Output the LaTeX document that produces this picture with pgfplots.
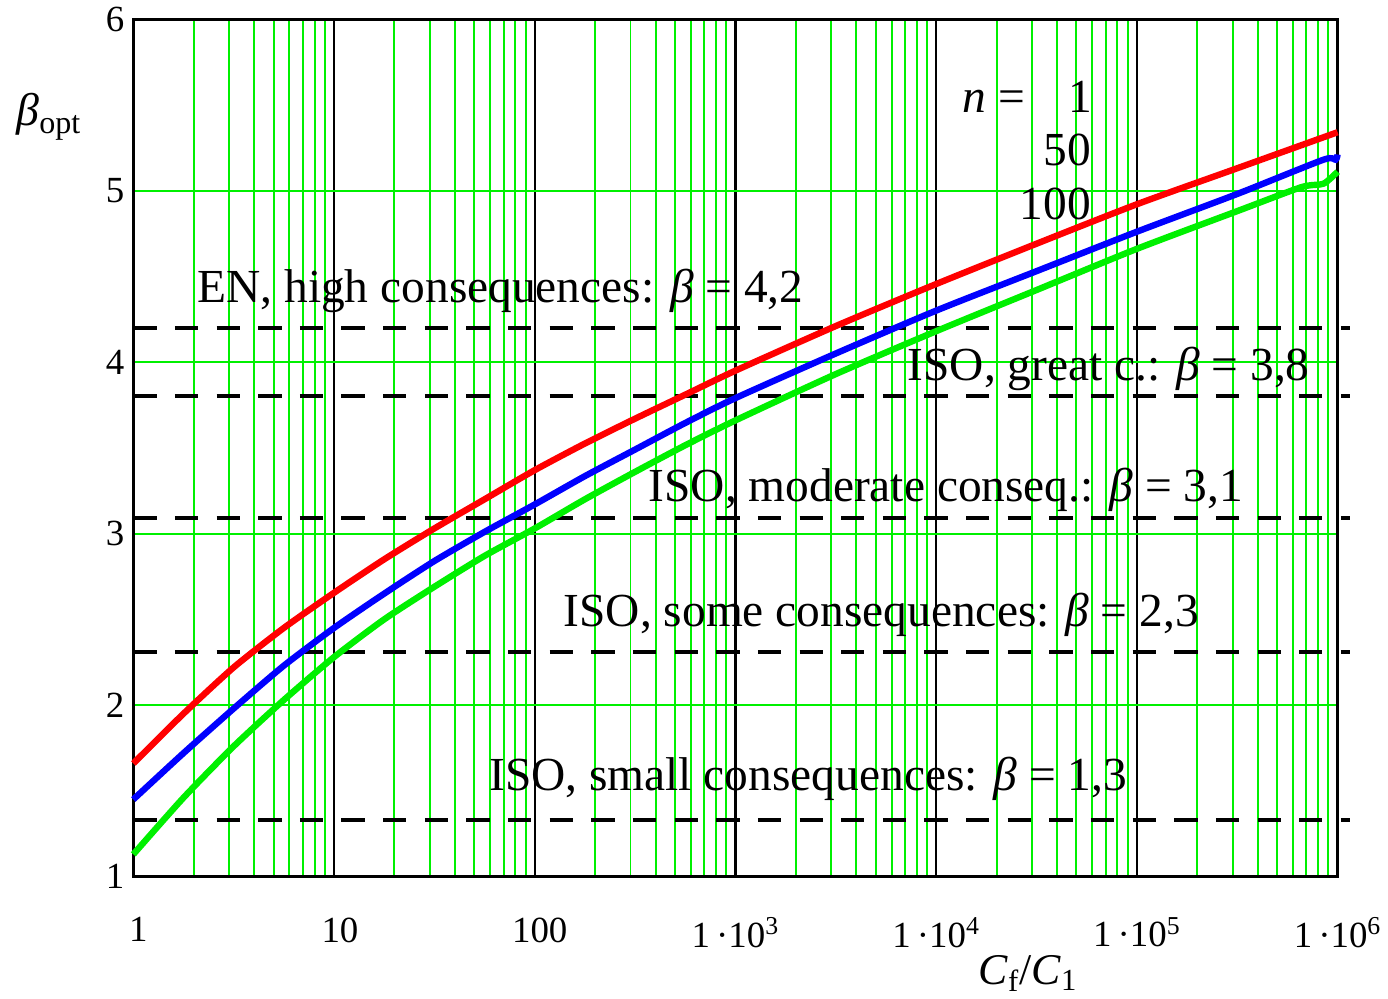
\documentclass[border={5pt 0pt 0pt 0pt}]{standalone}
\usepackage{fontspec}
\setmainfont{Liberation Serif}
\usepackage{pgfplots}
\pgfplotsset{compat=1.18}
\definecolor{gridgreen}{RGB}{0,240,0}
\definecolor{cgreen}{RGB}{0,240,0}
\begin{document}
\begin{tikzpicture}
\begin{axis}[
  scale only axis,
  width=604.5pt, height=430.5pt,
  xmode=log, log basis x=10,
  xmin=1, xmax=1e6, ymin=1, ymax=6,
  xtick={1,10,100,1000,10000,100000,1000000},
  xticklabels={{\hspace*{5pt}1},{\hspace*{6pt}10},{\hspace*{5pt}100},{1\,·10\textsuperscript{3}},{1\,·10\textsuperscript{4}},{1\,·10\textsuperscript{5}},{1\,·10\textsuperscript{6}}},
  minor xtick={2,3,4,5,6,7,8,9,20,30,40,50,60,70,80,90,200,300,400,500,600,700,800,900,2000,3000,4000,5000,6000,7000,8000,9000,20000,30000,40000,50000,60000,70000,80000,90000,200000,300000,400000,500000,600000,700000,800000,900000},
  ytick={1,2,3,4,5,6},
  yticklabels={1,2,3,4,5,6},
  /pgf/number format/assume math mode=true,
  tick label style={font=\fontsize{18.5}{20}\selectfont},
  xticklabel style={yshift=-17pt},
  yticklabel style={xshift=-1pt},
  major tick length=0pt, minor tick length=0pt,
  xmajorgrids, xminorgrids, ymajorgrids,
  grid style={gridgreen, line width=1pt},
  minor grid style={gridgreen, line width=1pt},
  x grid style={gridgreen, line width=1pt},
  major x grid style={black, line width=1.1pt},
  minor x grid style={gridgreen, line width=1pt},
  y grid style={gridgreen, line width=1pt},
  axis line style={black, line width=1.5pt},
  clip=false,
  xlabel={\textit{C}\textsubscript{f}/\textit{C}\textsubscript{1}},
  xlabel style={font=\fontsize{22}{24}\selectfont, at={(rel axis cs:0.743,-0.113)}, anchor=center},
  ylabel={\textit{β}\textsubscript{opt}},
  ylabel style={font=\fontsize{23}{24}\selectfont, rotate=-90, at={(rel axis cs:-0.07,0.886)}, anchor=center},
]
% reference levels
\addplot[black, line width=2pt, dash pattern=on 11.7pt off 9.2pt] coordinates {(1,4.2) (1.15e6,4.2)};
\addplot[black, line width=2pt, dash pattern=on 11.7pt off 9.2pt] coordinates {(1,3.8) (1.15e6,3.8)};
\addplot[black, line width=2pt, dash pattern=on 11.7pt off 9.2pt] coordinates {(1,3.09) (1.15e6,3.09)};
\addplot[black, line width=2pt, dash pattern=on 11.7pt off 9.2pt] coordinates {(1,2.31) (1.15e6,2.31)};
\addplot[black, line width=2pt, dash pattern=on 11.7pt off 9.2pt] coordinates {(1,1.33) (1.15e6,1.33)};
% n = 100
\addplot[cgreen, line width=3.2pt, smooth, tension=0.4] coordinates {
(1,1.13) (1.778,1.46) (3.162,1.76) (5.623,2.03) (10,2.28) (17.78,2.50) (31.62,2.69) (56.23,2.87)
(100,3.03) (177.8,3.20) (316.2,3.36) (562.3,3.515) (1000,3.66) (3162,3.93) (10000,4.18) (31620,4.42) (100000,4.66)
(316200,4.88) (660700,5.02) (851100,5.04) (1000000,5.11)};
% n = 50
\addplot[blue, line width=3.2pt, smooth, tension=0.4] coordinates {
(1,1.45) (1.778,1.72) (3.162,1.98) (5.623,2.23) (10,2.45) (17.78,2.65) (31.62,2.84) (56.23,3.01)
(100,3.17) (177.8,3.335) (316.2,3.49) (562.3,3.645) (1000,3.79) (3162,4.05) (10000,4.30) (31620,4.53) (100000,4.76)
(316200,4.98) (851100,5.18) (977200,5.18) (1000000,5.21)};
% n = 1
\addplot[red, line width=3.2pt, smooth, tension=0.4] coordinates {
(1,1.66) (1.778,1.95) (3.162,2.22) (5.623,2.45) (10,2.655) (17.78,2.85) (31.62,3.03) (56.23,3.20)
(100,3.37) (177.8,3.525) (316.2,3.67) (562.3,3.81) (1000,3.95) (3162,4.21) (10000,4.455) (31620,4.69) (100000,4.92)
(316200,5.13) (1000000,5.34)};
% annotations
\node[anchor=west, inner sep=0pt, font=\fontsize{23.8}{26}\selectfont] at (axis cs:2.08,4.415) {EN, high consequences: \textit{β} = 4,2};
\node[anchor=west, inner sep=0pt, font=\fontsize{23.8}{26}\selectfont] at (axis cs:7180,3.96) {ISO, great c.: \textit{β} = 3,8};
\node[anchor=west, inner sep=0pt, font=\fontsize{23.8}{26}\selectfont] at (axis cs:368,3.253) {ISO, moderate conseq.: \textit{β} = 3,1};
\node[anchor=west, inner sep=0pt, font=\fontsize{23.8}{26}\selectfont] at (axis cs:139,2.527) {ISO, some consequences: \textit{β} = 2,3};
\node[anchor=west, inner sep=0pt, font=\fontsize{23.8}{26}\selectfont] at (axis cs:59.1,1.569) {ISO, small consequences: \textit{β} = 1,3};
\node[anchor=west, inner sep=0pt, font=\fontsize{23.8}{26}\selectfont] at (axis cs:13460,5.547) {\textit{n} =\hspace{22pt}1};
\node[anchor=east, inner sep=0pt, font=\fontsize{23.8}{26}\selectfont] at (axis cs:59400,5.239) {50};
\node[anchor=east, inner sep=0pt, font=\fontsize{23.8}{26}\selectfont] at (axis cs:59400,4.92) {100};
\end{axis}
\end{tikzpicture}
\end{document}
